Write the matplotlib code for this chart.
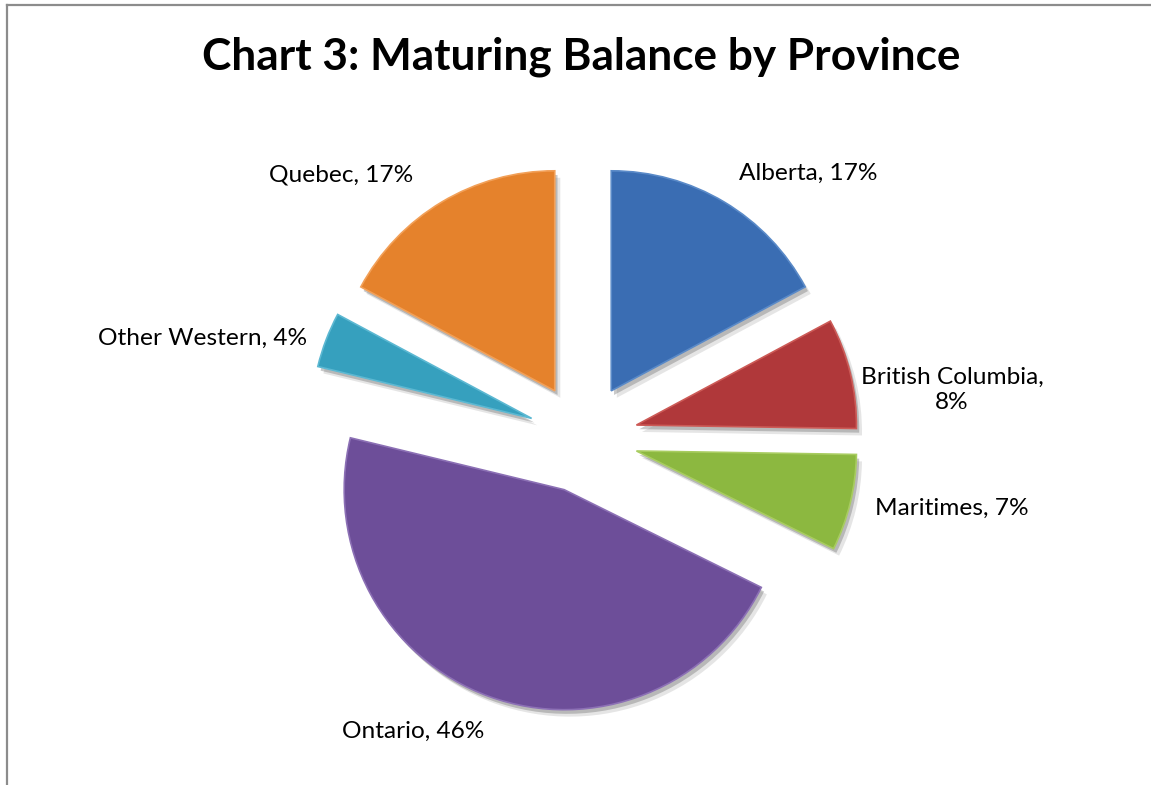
import matplotlib
matplotlib.use('Agg')
import matplotlib.pyplot as plt
import matplotlib.patheffects as pe
from matplotlib.lines import Line2D

# data
provinces = ["Alberta", "British Columbia", "Maritimes", "Ontario", "Other Western", "Quebec"]
shares = [17, 8, 7, 46, 4, 17]
colors = ["#3A6DB3", "#B0383A", "#8CB840", "#6D4E99", "#36A0BE", "#E5822C"]
edges = ["#5A8AC8", "#CC5A56", "#A8CC60", "#8C70B5", "#5CB8D2", "#F2A058"]

# label layout (pixel centres, y from top)
label_pos = [(808, 173), (952, 390), (952, 508), (413, 731), (203, 338), (341, 175)]
label_text = [f"{p}, {s}%" for p, s in zip(provinces, shares)]
label_text[1] = f"{provinces[1]},\n{shares[1]}%"

W, H = 1151, 785
fig = plt.figure(figsize=(W / 100, H / 100), dpi=100)
ax = fig.add_axes([0, 0, 1, 1])

# explode is in data units (pixels here)
wedges, _ = ax.pie(shares, colors=colors, startangle=90, counterclock=False,
                   explode=[55] * len(shares), radius=220, center=(583, H - 438),
                   wedgeprops=dict(linewidth=1.2))
for w, ec in zip(wedges, edges):
    w.set_edgecolor(ec)
    w.set_path_effects([
        pe.SimplePatchShadow(offset=(4, -5), shadow_rgbFace='#999999', alpha=0.25),
        pe.SimplePatchShadow(offset=(2, -3), shadow_rgbFace='#666666', alpha=0.35),
        pe.Normal()])

ax.set_xlim(0, W)
ax.set_ylim(0, H)
ax.set_aspect('auto')
ax.axis('off')

renderer = fig.canvas.get_renderer()


def fit(t, target):
    bb = t.get_window_extent(renderer)
    t.set_fontsize(t.get_fontsize() * target / bb.width)


title = fig.text(581 / W, 1 - 57 / H, "Chart 3: Maturing Balance by Province",
                 ha='center', va='center', fontsize=30, fontweight='bold', family='Lato')
fit(title, 757)

labels = []
for txt, (x, y) in zip(label_text, label_pos):
    labels.append(ax.text(x, H - y, txt, ha='center', va='center', multialignment='center',
                          fontsize=17, family='Lato', color='black'))
probe = labels[2]
fs = probe.get_fontsize() * 153 / probe.get_window_extent(renderer).width
for t in labels:
    t.set_fontsize(fs)

# chart border (top and left visible)
fig.add_artist(Line2D([7 / W, 1], [1 - 5 / H, 1 - 5 / H], color='#8C8C8C', lw=1.6))
fig.add_artist(Line2D([7 / W, 7 / W], [0, 1 - 5 / H], color='#8C8C8C', lw=1.6))

fig.savefig('out.png', dpi=100, facecolor='white')
